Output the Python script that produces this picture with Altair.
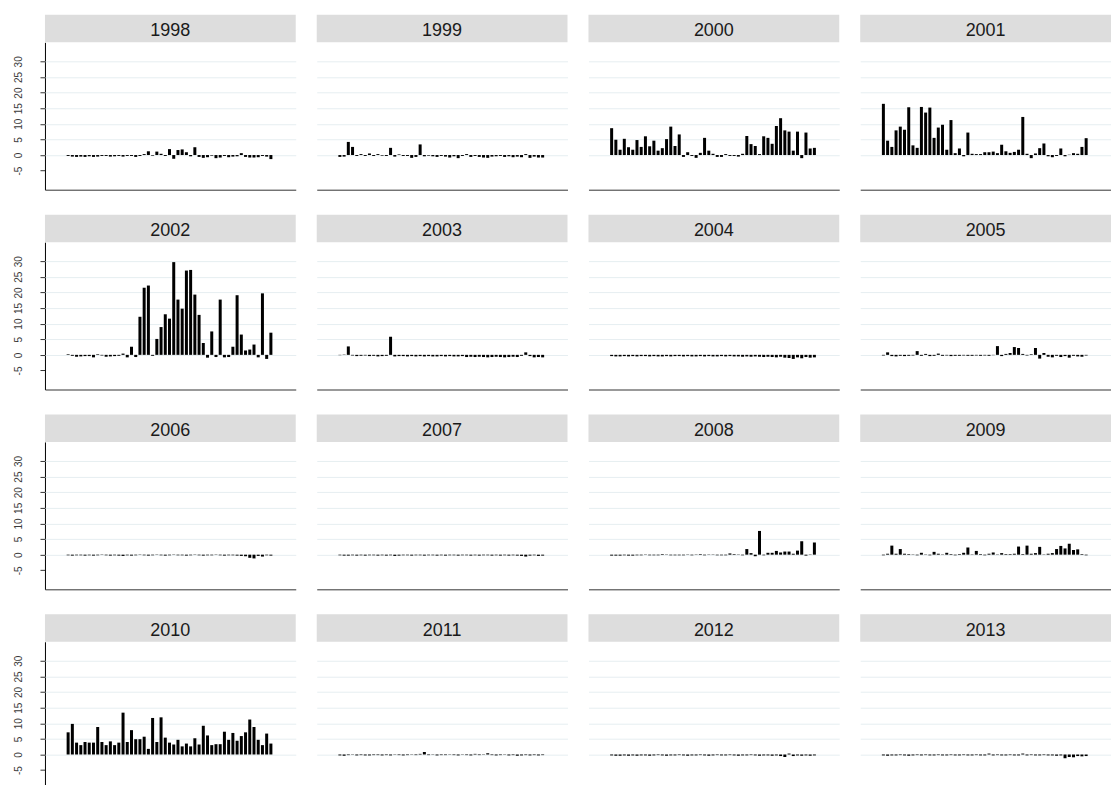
import altair as alt
import pandas as pd

years = list(range(1998, 2014))

v1998 = [-0.3,-0.5,-0.6,-0.5,-0.6,-0.4,-0.6,-0.5,-0.3,-0.3,-0.5,-0.4,-0.3,-0.5,-0.3,-0.3,-0.6,
         -0.3,0.3,1.2,-0.2,1.1,0.4,-0.3,1.9,-1.2,1.6,1.8,0.9,-0.4,2.5,
         -0.6,-0.9,-0.7,-0.2,-1.0,-0.8,-0.3,-0.7,-0.5,-0.4,0.6,
         -0.6,-0.8,-0.8,-0.7,-0.3,-0.5,-1.3]
v1999 = [-0.6,-0.5,4.2,2.6,-0.3,0.3,-0.3,0.5,-0.3,0.3,-0.2,-0.3,2.3,-0.5,0.2,-0.3,-0.3,-0.9,-0.6,3.4,
         -0.4,-0.2,-0.4,-0.6,-0.3,-0.5,-0.8,-0.4,-1.0,-0.3,0.3,-0.6,-0.3,-0.6,-0.8,-0.9,-0.5,-0.4,-0.3,-0.6,
         -0.4,-0.7,-0.5,-0.7,0.3,-0.9,-0.5,-0.8,-0.8]
v2000 = [8.6,4.9,1.7,5.2,2.5,1.7,4.8,2.6,6.0,2.8,4.6,1.4,2.2,5.1,9.1,2.9,6.6,-0.6,0.9,-0.3,
         -0.9,0.7,5.5,1.4,0.4,-0.6,-0.6,0.3,-0.3,-0.3,-0.5,0.4,6.1,3.5,2.9,0.3,6.0,5.5,3.6,9.3,
         11.8,7.9,7.5,1.4,7.5,-1.0,7.2,2.1,2.3]
v2001 = [16.4,4.6,2.6,7.9,9.1,8.1,15.3,3.1,2.3,15.4,13.6,15.2,5.5,8.8,9.7,1.7,11.2,0.6,2.1,-0.4,
         7.2,0.4,0.3,0.3,0.9,0.9,1.1,0.6,3.3,1.2,0.7,1.0,1.7,12.2,0.4,-1.0,0.5,2.2,3.7,-0.4,
         -0.7,-0.3,2.1,-0.4,0.1,0.6,0.4,2.6,5.4]
v2002 = [0.2,-0.3,-0.6,-0.5,-0.4,-0.4,-0.8,0.2,-0.2,-0.6,-0.5,-0.4,-0.3,0.4,-0.8,2.6,-0.7,12.2,21.5,22.2,
         -0.3,5.1,8.9,13.0,11.6,29.7,17.7,14.8,27.0,27.2,19.3,12.8,3.8,-0.9,7.5,-0.7,17.7,-0.8,-0.7,2.6,
         19.1,6.5,1.4,1.7,3.3,-0.8,19.7,-1.3,7.1]
v2003 = [-0.1,0.1,2.7,-0.2,-0.4,-0.3,-0.2,-0.4,-0.3,-0.5,-0.4,-0.3,5.8,-0.5,-0.4,-0.4,-0.5,-0.4,-0.5,-0.4,
         -0.5,-0.4,-0.5,-0.5,-0.4,-0.5,-0.4,-0.5,-0.5,-0.4,-0.7,-0.6,-0.7,-0.6,-0.7,-0.8,-0.7,-0.6,-0.7,-0.8,
         -0.7,-0.6,-0.7,-0.3,0.8,-0.4,-0.8,-0.7,-0.8]
v2004 = [-0.4,-0.5,-0.5,-0.4,-0.5,-0.4,-0.5,-0.4,-0.4,-0.5,-0.4,-0.5,-0.5,-0.4,-0.5,-0.4,-0.4,-0.5,-0.4,-0.5,
         -0.5,-0.4,-0.5,-0.4,-0.5,-0.5,-0.4,-0.5,-0.4,-0.5,-0.5,-0.6,-0.5,-0.6,-0.5,-0.6,-0.7,-0.6,-0.7,-0.8,
         -0.6,-0.9,-1.0,-1.3,-0.8,-1.1,-0.7,-0.9,-0.8]
v2005 = [-0.2,0.8,-0.4,-0.5,-0.3,-0.4,-0.3,-0.2,1.2,-0.3,0.3,-0.4,-0.3,0.4,-0.3,-0.2,-0.4,-0.3,-0.3,-0.2,
         -0.3,-0.3,-0.2,-0.3,-0.2,-0.3,-0.1,2.8,-0.4,0.3,0.6,2.5,2.2,0.3,-0.2,0.2,2.2,-1.2,0.6,-0.6,
         -0.8,-0.3,-0.7,-0.4,-0.9,-0.3,-0.5,-0.6,-0.2]
v2006 = [-0.2,-0.3,-0.2,-0.2,-0.3,-0.2,-0.3,-0.2,-0.1,-0.2,-0.3,-0.2,-0.3,-0.4,-0.2,-0.3,-0.2,-0.1,-0.2,-0.3,
         -0.2,-0.1,-0.2,-0.3,-0.2,-0.1,-0.2,-0.2,-0.3,-0.2,-0.1,-0.2,-0.3,-0.2,-0.2,-0.1,-0.2,-0.3,-0.2,-0.2,
         -0.3,-0.4,-0.5,-1.0,-1.2,-0.4,-0.6,-0.2,-0.3]
v2007 = [-0.2,-0.3,-0.3,-0.2,-0.3,-0.2,-0.3,-0.2,-0.2,-0.3,-0.2,-0.3,-0.2,-0.4,-0.3,-0.2,-0.2,-0.3,-0.2,-0.2,
         -0.3,-0.2,-0.2,-0.3,-0.2,-0.3,-0.2,-0.2,-0.3,-0.2,-0.2,-0.3,-0.2,-0.3,-0.2,-0.2,-0.3,-0.2,-0.3,-0.2,
         -0.3,-0.2,-0.3,-0.4,-0.6,-0.3,-0.2,-0.4,-0.3]
v2008 = [-0.3,-0.3,-0.3,-0.2,-0.3,-0.3,-0.2,-0.2,0.1,-0.2,-0.2,-0.2,0.2,0.1,-0.2,-0.2,-0.2,-0.2,-0.1,-0.2,
         -0.1,0.2,-0.2,-0.1,0.1,-0.2,-0.2,-0.2,0.4,0.2,0.1,-0.2,1.8,0.5,-0.5,7.6,-0.2,0.6,0.6,1.2,
         0.7,1.0,1.0,0.3,1.3,4.3,-0.3,0.1,3.9]
v2009 = [-0.2,0.3,2.9,0.3,1.8,0.3,0.2,0.1,-0.2,0.6,0.1,-0.2,0.9,0.3,-0.1,0.6,0.2,-0.2,0.2,0.6,
         2.3,0.1,1.2,0.2,-0.2,0.3,0.7,0.1,0.5,0.2,0.2,0.3,2.6,0.2,2.9,0.3,0.5,2.5,0.1,0.3,
         0.5,1.8,2.8,2.0,3.5,1.5,1.7,0.2,-0.2]
v2010 = [7.1,9.8,3.8,3.0,4.0,3.8,3.8,8.8,4.0,3.0,4.2,3.0,3.8,13.4,4.0,7.8,4.9,4.9,5.7,1.8,
         11.7,4.0,11.9,5.4,3.8,3.2,4.7,2.6,3.5,2.6,5.2,3.2,9.2,6.1,3.0,3.3,3.3,7.3,4.7,6.9,
         4.4,5.9,7.1,11.2,8.8,4.7,3.0,6.7,3.5]
v2011 = [-0.3,-0.4,-0.2,-0.1,-0.3,-0.2,-0.3,-0.3,-0.2,-0.2,-0.3,-0.2,-0.3,-0.1,-0.2,-0.3,-0.2,-0.1,-0.2,0.2,
         0.8,-0.2,-0.1,-0.3,-0.2,-0.2,-0.1,-0.2,-0.3,0.1,-0.2,-0.3,0.2,-0.2,-0.1,0.4,-0.2,-0.3,-0.2,-0.1,
         -0.3,-0.2,-0.4,-0.3,-0.2,-0.3,-0.2,-0.3,-0.2]
v2012 = [-0.3,-0.4,-0.4,-0.3,-0.4,-0.3,-0.4,-0.3,-0.3,-0.4,-0.3,-0.2,-0.3,-0.4,-0.3,-0.3,-0.2,-0.3,-0.4,-0.3,
         -0.3,-0.2,-0.3,-0.4,-0.3,-0.2,-0.3,-0.3,-0.2,-0.3,-0.4,-0.3,-0.3,-0.2,-0.3,-0.4,-0.3,-0.3,-0.4,-0.3,
         -0.5,-0.8,0.3,-0.5,-0.3,-0.4,-0.3,-0.4,-0.3]
v2013 = [-0.3,-0.4,-0.3,-0.3,-0.2,-0.3,-0.4,-0.3,-0.2,-0.3,-0.2,-0.3,-0.3,-0.2,-0.3,-0.3,-0.2,-0.3,-0.3,-0.2,
         -0.3,-0.3,-0.2,-0.3,-0.3,0.3,-0.3,-0.2,-0.3,-0.3,-0.2,-0.3,-0.3,0.3,-0.3,-0.2,-0.3,-0.3,-0.2,-0.3,
         -0.3,-0.4,-0.3,-1.2,-0.8,-0.9,-0.5,-0.6,-0.5]

series = [v1998, v1999, v2000, v2001, v2002, v2003, v2004, v2005,
          v2006, v2007, v2008, v2009, v2010, v2011, v2012, v2013]

y_ticks = [-5, 0, 5, 10, 15, 20, 25, 30]

rows = []
for idx, (yr, vals) in enumerate(zip(years, series)):
    for i, v in enumerate(vals):
        rows.append({"year": str(yr), "prow": idx // 4, "pcol": idx % 4,
                     "week": i + 1, "value": v})
df = pd.DataFrame(rows)

W, H = 251, 147.5
STRIP = 27.5

base = alt.Chart()

strip = base.mark_rect(color="#dddddd").encode(
    x=alt.value(0), x2=alt.value(W), y=alt.value(-STRIP), y2=alt.value(0)
).transform_filter("datum.week == 1")

label = base.mark_text(
    font="Liberation Sans", fontSize=18, color="#1a1a1a", baseline="alphabetic", align="center"
).encode(
    x=alt.value(W / 2), y=alt.value(-6), text="year:N"
).transform_filter("datum.week == 1")

bars = base.mark_bar(size=3, color="#000000").encode(
    x=alt.X("week:Q",
            scale=alt.Scale(domain=[-3.3, 53.7], nice=False, zero=False),
            axis=alt.Axis(labels=False, ticks=False, grid=False, title=None,
                          domainColor="#333333", domainWidth=1)),
    y=alt.Y("value:Q",
            scale=alt.Scale(domain=[-11.1, 36.1], nice=False),
            axis=alt.Axis(values=y_ticks, title=None, labelAngle=270,
                          labelAlign="center", labelBaseline="bottom",
                          labelPadding=16, tickSize=5, tickColor="#333333",
                          labelFont="Liberation Sans", labelFontSize=10,
                          labelColor="#3a3a3a", labelOverlap=False,
                          labelExpr="datum.value < 0 ? '-' + abs(datum.value) : '' + datum.value",
                          domainColor="#000000", domainWidth=1,
                          gridColor=alt.condition("datum.value < 0",
                                                  alt.value("transparent"),
                                                  alt.value("#e6eef1")),
                          gridWidth=1)),
)

panel = alt.layer(strip, label, bars).properties(width=W, height=H)

chart = panel.facet(
    row=alt.Row("prow:O", header=alt.Header(labels=False, title=None)),
    column=alt.Column("pcol:O", header=alt.Header(labels=False, title=None)),
    data=df,
    spacing={"row": 24, "column": 21},
).resolve_axis(x="independent").properties(
    padding={"left": 5, "top": 6, "right": 0, "bottom": 0}
).configure_view(stroke=None)

chart.save("out.html", embed_options={"renderer": "svg", "actions": False})
